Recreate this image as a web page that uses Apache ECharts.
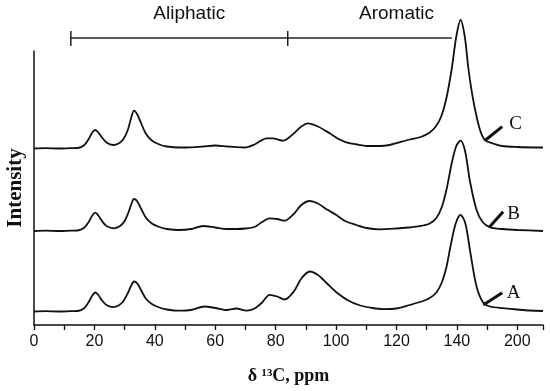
<!DOCTYPE html>
<html>
<head>
<meta charset="utf-8">
<script src="https://cdn.jsdelivr.net/npm/echarts@6/dist/echarts.min.js"></script>
<style>
html,body{margin:0;padding:0;background:#fff;}
#c{width:550px;height:391px;}
</style>
</head>
<body>
<div id="c"></div>
<script>
// ---- Data (ppm, intensity above each spectrum's own baseline) ----
var spectrumA = [[0,0],[4,0.3],[8,0],[12,0.3],[14.5,0.5],[16.5,3],[18,9],[19.3,16],[20.3,19],[21.3,16.5],[22.5,11],[24,6.5],[26.2,4.4],[28,6],[29.5,10],[31,18],[32.2,26],[33.1,30],[34.2,28],[35.5,21],[37,13],[39,7.5],[41.5,4],[44,2],[48,0.8],[52,1.5],[56.5,5],[60,3.5],[64,1.5],[67,3],[70.4,0.8],[73,3],[75.5,9],[78,16.7],[80.5,15],[83,12],[86,20],[88.5,33],[91.3,40],[94,36.5],[97,28],[100,19.5],[104,11],[108,6],[112,3.5],[115.5,2.4],[120,3],[124.4,6.5],[128.8,10.5],[131,13.5],[133.2,19],[135,29],[136.5,44],[138,67],[139.6,88],[141.2,96.5],[142.8,88],[144.5,58],[146.5,25],[148.7,9],[151,5],[155.3,3.3],[160,2],[164,1],[168.5,0.5]];
var spectrumB = [[0,0],[4,0.3],[8,0],[12,0.3],[14.5,0.5],[16.5,3],[18,8.5],[19.3,15.5],[20.3,18.3],[21.3,15.5],[22.5,10],[24,5],[26.5,2.7],[28.5,5],[30,10],[31.2,18],[32.3,27.5],[33.1,32],[34.1,30],[35.5,22],[37,13.5],[39,7.5],[41.5,4],[44,2],[48,1],[52,2],[56,5],[60,3.5],[64,2],[67,2],[70,2.5],[73,4],[75.5,9],[78,12.7],[80.5,12],[83,10.3],[86,17],[88.5,26],[91.2,30],[94,27.5],[97,21.5],[100.1,16],[103,10],[106.7,6],[110,3],[114.5,1.7],[120,2.5],[124,3.5],[127.7,4.8],[131,7.5],[133.2,13],[135,24],[136.6,42],[138.3,68],[139.8,85],[141.2,90.3],[142.7,80],[144.3,50],[146.5,21],[148.5,9],[151,3.7],[155,2],[160,1],[168.5,0]];
var spectrumC = [[0,0],[4,0.3],[8,0],[12,0.3],[14.5,0.5],[16.5,3],[18,9],[19.3,16],[20.3,18.5],[21.3,16],[22.5,11],[24,6],[26.2,3.5],[28,5],[29.5,9],[31,18],[32.2,31],[33.1,37.8],[34.2,34],[35.5,25],[37,15],[39,8],[41.5,4],[44,2],[48,1],[52,1.2],[56,2],[60,3],[64,2],[67,1.3],[69.8,1],[73,4],[77,10.2],[79,10.2],[82.5,7.8],[86,15],[88.5,22],[90.7,25.2],[94,22],[97.9,15.2],[100.5,10],[103.4,6.2],[107,4],[111,2.5],[114.5,2.5],[117.7,3.5],[121,6.2],[124.5,9],[128,11.5],[131,16],[133,22],[134.8,32],[136.5,50],[138.2,78],[139.8,112],[141.2,128.5],[142.6,112],[143.8,80],[145.4,48.5],[147.5,20],[149.2,8.5],[151,6],[155,2.5],[160,1.5],[168.5,1]];
var seriesNames = ['A','B','C'];
var seriesOffsets = [13.5, 94, 176.5];          // vertical stacking offsets (intensity units)
var xTickValues = [0,20,40,60,80,100,120,140,160];
var xTickLabels = ['0','20','40','60','80','100','120','140','200'];
var regionNames = ['Aliphatic','Aromatic'];
var regionBounds = [[12.2,84],[84,138.3]];       // ppm
var regionLabelAt = [51.4,120];                  // ppm
var leaderFrom = [[148.7,20],[150.7,97.7],[149.5,185]];
var leaderTo   = [[155,32.3],[155.3,113.3],[155,198.3]];
var letterAt   = [[158.8,32.3],[158.8,110.5],[159.4,200.5]];

var spectra = [spectrumA, spectrumB, spectrumC];
var chart = echarts.init(document.getElementById('c'), null, {renderer:'canvas'});
var labelMap = {};
xTickValues.forEach(function(v,i){ labelMap[v] = xTickLabels[i]; });

var series = spectra.map(function(s, i){
  return {
    name: seriesNames[i], type:'line', showSymbol:false, smooth:0.3, clip:false,
    lineStyle:{color:'#111', width:1.8},
    data: s.map(function(p){ return [p[0], p[1] + seriesOffsets[i]]; }),
    z: 3
  };
});

chart.setOption({
  animation:false,
  backgroundColor:'#fff',
  grid:{left:34, right:7, top:51, bottom:66, containLabel:false, outerBoundsMode:'none'},
  xAxis:{
    type:'value', min:0, max:168.5, interval:10,
    name:'δ ¹³C, ppm', nameLocation:'middle', nameGap:42,
    nameTextStyle:{fontFamily:'Liberation Serif', fontWeight:'bold', fontSize:18, color:'#111'},
    axisLine:{lineStyle:{color:'#111', width:1.5}},
    axisTick:{show:true, length:5, lineStyle:{color:'#111', width:1.3}},
    axisLabel:{fontFamily:'Liberation Sans', fontSize:16, color:'#111', margin:9,
      formatter:function(v){ return labelMap.hasOwnProperty(v) ? labelMap[v] : ''; }},
    splitLine:{show:false}
  },
  yAxis:{
    type:'value', min:0, max:274,
    name:'Intensity', nameLocation:'middle', nameGap:8, nameRotate:90,
    nameTextStyle:{fontFamily:'Liberation Serif', fontWeight:'bold', fontSize:21, color:'#111'},
    axisLine:{show:true, lineStyle:{color:'#111', width:1.5}},
    axisTick:{show:false}, axisLabel:{show:false}, splitLine:{show:false}
  },
  series: series
});

function px(x,y){ return chart.convertToPixel({gridIndex:0},[x,y]); }
var g = [];
var bracketY = 38;
regionBounds.forEach(function(b, i){
  var x0 = px(b[0],0)[0], x1 = px(b[1],0)[0];
  g.push({type:'line', shape:{x1:x0,y1:bracketY,x2:x1,y2:bracketY}, style:{stroke:'#222', lineWidth:1.5}});
  g.push({type:'line', shape:{x1:x0,y1:bracketY-7,x2:x0,y2:bracketY+8}, style:{stroke:'#222', lineWidth:1.5}});
  g.push({type:'text', style:{text:regionNames[i], x:px(regionLabelAt[i],0)[0], y:14,
    textAlign:'center', textVerticalAlign:'middle', font:'19px "Liberation Sans"', fill:'#111'}});
});
leaderFrom.forEach(function(f, i){
  var a = px(f[0],f[1]), b = px(leaderTo[i][0], leaderTo[i][1]), t = px(letterAt[i][0], letterAt[i][1]);
  g.push({type:'line', shape:{x1:a[0],y1:a[1],x2:b[0],y2:b[1]}, style:{stroke:'#111', lineWidth:3}});
  g.push({type:'text', style:{text:seriesNames[i], x:t[0], y:t[1], textAlign:'center', textVerticalAlign:'middle',
    font:'19px "Liberation Serif"', fill:'#111'}});
});
chart.setOption({graphic:g});
</script>
</body>
</html>
